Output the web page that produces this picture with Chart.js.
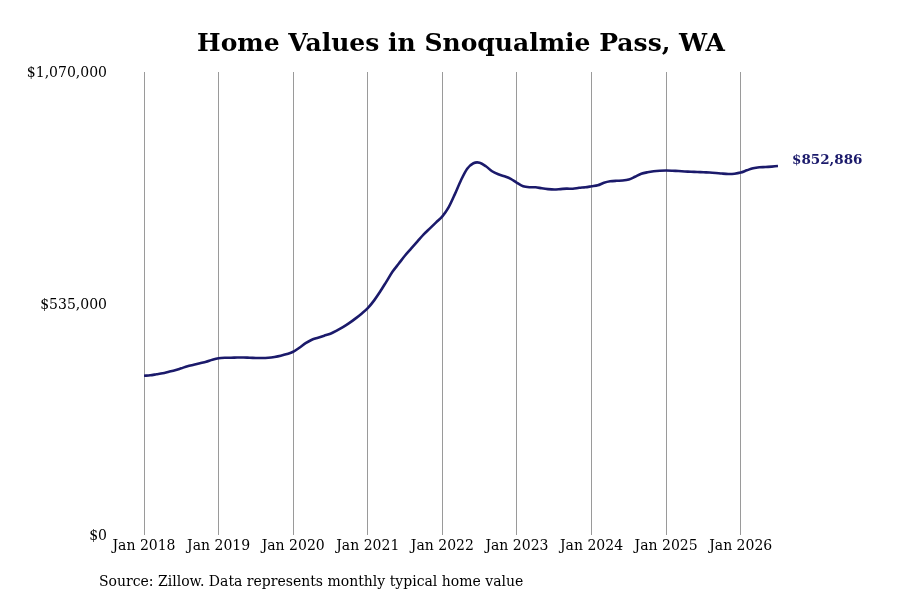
<!DOCTYPE html>
<html>
<head>
<meta charset="utf-8">
<script src="https://cdn.jsdelivr.net/npm/chart.js@4"></script>
<style>
  body { margin: 0; background: #fff; }
  #wrap { position: relative; width: 900px; height: 600px; font-family: "DejaVu Serif", "Liberation Serif", serif; }
  #title { position: absolute; left: 22px; width: 878px; top: 27px; text-align: center; font-size: 25px; font-weight: bold; line-height: 32px; color: #000; }
  #source { position: absolute; left: 99px; top: 573px; font-size: 14px; line-height: 16px; color: #000; }
</style>
</head>
<body>
<div id="wrap">
  <canvas id="chart" width="900" height="600"></canvas>
  <div id="title">Home Values in Snoqualmie Pass, WA</div>
  <div id="source">Source: Zillow. Data represents monthly typical home value</div>
</div>
<script>
// monthly typical home value, Jan 2018 .. Jul 2026
const months = [];
for (let y = 2018; y <= 2026; y++) {
  ['Jan','Feb','Mar','Apr','May','Jun','Jul','Aug','Sep','Oct','Nov','Dec'].forEach(m => months.push(m + ' ' + y));
}
const values = [
  368200, 369400, 371700, 374000, 377500, 381000, 385600, 390200, 393700, 397200, 400700, 405300,
  408800, 409900, 409900, 410400, 410400, 409900, 409500, 409200, 409900, 411800, 414600, 418500,
  423800, 433100, 443500, 451600, 456300, 460900, 465500, 472500, 480600, 489800, 500300, 511800,
  524600, 541900, 562800, 585900, 609100, 627600, 646200, 662400, 678600, 694800, 708700, 722600,
  736500, 757300, 787400, 819900, 846500, 859200, 860400, 852300, 840700, 833800, 829100, 823300,
  814100, 806000, 803700, 803700, 801300, 799500, 798600, 799500, 800600, 800400, 802500, 803700,
  806000, 808300, 814100, 817500, 818700, 819200, 821500, 828000, 834900, 838400, 840700, 841900,
  842300, 841900, 841200, 840200, 839500, 839100, 838400, 837900, 836800, 835400, 834500, 835100,
  837700, 843000, 847700, 850000, 850400, 851500, 852886
];
const xTickLabels = ['Jan 2018','Jan 2019','Jan 2020','Jan 2021','Jan 2022','Jan 2023','Jan 2024','Jan 2025','Jan 2026'];
const yTicks = [0, 535000, 1070000];

const serif = '"DejaVu Serif", "Liberation Serif", serif';
const navy = '#1b1a6b';

const money = v => '$' + Math.round(v).toLocaleString('en-US');

const endLabel = {
  id: 'endLabel',
  afterDatasetsDraw(chart) {
    const pts = chart.getDatasetMeta(0).data;
    const last = pts[pts.length - 1];
    const ctx = chart.ctx;
    ctx.save();
    ctx.font = 'bold 13.5px ' + serif;
    ctx.fillStyle = navy;
    ctx.textAlign = 'left';
    ctx.textBaseline = 'middle';
    ctx.fillText(money(values[values.length - 1]), last.x + 14, last.y - 5);
    ctx.restore();
  }
};

new Chart(document.getElementById('chart'), {
  type: 'line',
  data: {
    labels: months,
    datasets: [{
      data: values.map((v, i) => ({ x: i, y: v })),
      borderColor: navy,
      borderWidth: 2.6,
      pointRadius: 0,
      tension: 0.3,
      fill: false
    }]
  },
  options: {
    responsive: false,
    animation: false,
    devicePixelRatio: 1,
    layout: { padding: { top: 72, left: 20, right: 122, bottom: 42 } },
    plugins: {
      legend: { display: false },
      tooltip: { enabled: false },
      title: { display: false }
    },
    scales: {
      x: {
        type: 'linear',
        min: 0,
        max: values.length - 1,
        border: { display: false },
        grid: { color: '#9a9a9a', lineWidth: 1, drawTicks: false },
        ticks: {
          stepSize: 12,
          includeBounds: false,
          autoSkip: false,
          maxRotation: 0,
          padding: 3,
          color: '#000',
          font: { family: serif, size: 14 },
          callback: v => xTickLabels[v / 12]
        }
      },
      y: {
        min: yTicks[0],
        max: yTicks[yTicks.length - 1],
        border: { display: false },
        grid: { display: false, drawTicks: false },
        afterFit(scale) { scale.width = 124; },
        afterBuildTicks(scale) { scale.ticks = yTicks.map(v => ({ value: v })); },
        ticks: {
          padding: 37,
          labelOffset: 1.5,
          color: '#000',
          font: { family: serif, size: 14 },
          callback: v => money(v)
        }
      }
    }
  },
  plugins: [endLabel]
});
</script>
</body>
</html>
